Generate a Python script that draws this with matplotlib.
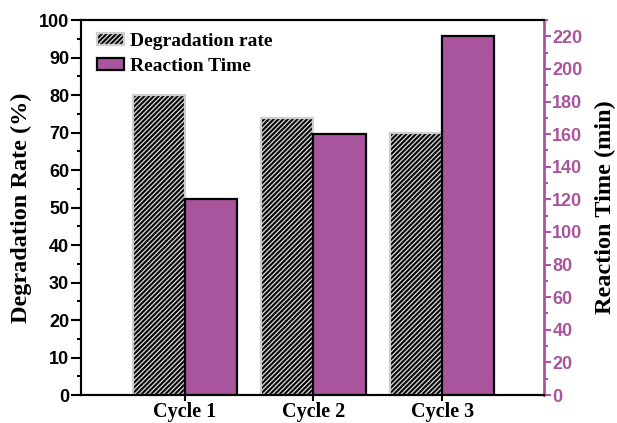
import matplotlib
matplotlib.use("Agg")
import matplotlib.pyplot as plt
from matplotlib.ticker import MultipleLocator
import numpy as np

categories = ["Cycle 1", "Cycle 2", "Cycle 3"]
degradation_rate = [80, 74, 70]
reaction_time = [120, 160, 220]

purple = "#A8559E"
plt.rcParams['hatch.linewidth'] = 1.0
plt.rcParams['font.family'] = ['Liberation Sans']
plt.rcParams['font.weight'] = 'bold'
plt.rcParams['font.size'] = 13

fig = plt.figure(figsize=(6.17, 4.23), dpi=100)
ax = fig.add_axes([81/617, 28/423, 463/617, 375/423])
ax2 = ax.twinx()

x = np.arange(1, len(categories) + 1)
w = 0.405
b1 = ax.bar(x - w/2, degradation_rate, w, facecolor="black", edgecolor="#cfcfcf",
            hatch="///////", linewidth=1.6, label="Degradation rate")
b2 = ax2.bar(x + w/2, reaction_time, w, facecolor=purple, edgecolor="black",
             linewidth=1.6, label="Reaction Time")

ax.set_xlim(0.195, 3.79)
ax.set_ylim(0, 100)
ax2.set_ylim(0, 230)

ax.yaxis.set_major_locator(MultipleLocator(10))
ax.yaxis.set_minor_locator(MultipleLocator(5))
ax2.yaxis.set_major_locator(MultipleLocator(20))
ax2.yaxis.set_minor_locator(MultipleLocator(10))

serif = {"family": "Liberation Serif", "weight": "bold"}
ax.set_xticks(x)
ax.set_xticklabels(categories, fontdict={**serif, "size": 14.5})

ax.tick_params(axis="y", which="major", direction="out", length=7, width=1.5, labelsize=13, pad=1.5)
ax.tick_params(axis="x", which="major", direction="out", length=4, width=1.5, pad=1)
ax.tick_params(axis="y", which="minor", direction="out", length=3, width=1.5)
ax2.tick_params(axis="y", which="major", direction="out", length=5, width=1.5, colors=purple,
                labelsize=13, pad=1)
ax2.tick_params(axis="y", which="minor", direction="out", length=3, width=1.5, colors=purple)

for s in ["left", "bottom", "top"]:
    ax.spines[s].set_linewidth(1.5)
    ax2.spines[s].set_linewidth(1.5)
ax2.spines["right"].set_color(purple)
ax2.spines["right"].set_linewidth(2)
ax.spines["right"].set_visible(False)

ax.set_ylabel("Degradation Rate (%)", fontdict={**serif, "size": 17.5})
ax.yaxis.set_label_coords(-49/463, 0.5)
ax2.set_ylabel("Reaction Time (min)", fontdict={**serif, "size": 17.5}, rotation=90)
ax2.yaxis.set_label_coords(1 + 51/463, 0.5)

ax.legend([b1, b2], ["Degradation rate", "Reaction Time"], loc="upper left",
          bbox_to_anchor=(12/463, 1 - 9/375),
          frameon=False, prop={"family": "Liberation Serif", "weight": "bold", "size": 14},
          handlelength=1.4, handleheight=0.55, handletextpad=0.3, labelspacing=0.4,
          borderaxespad=0.0, borderpad=0.2)

fig.savefig("out.png", dpi=100)
